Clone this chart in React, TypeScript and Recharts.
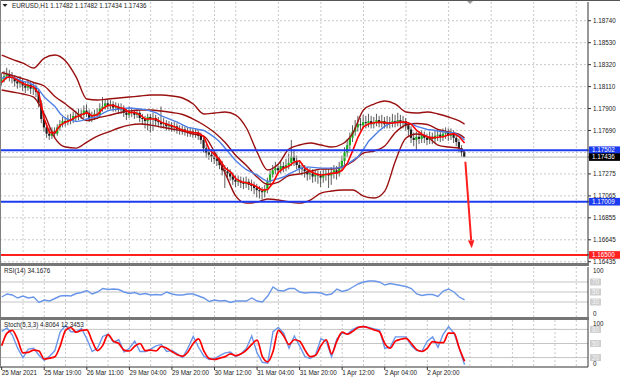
import React from "react";
import { ComposedChart, Bar, Line, XAxis, YAxis, CartesianGrid, ReferenceLine } from "recharts";

// EURUSD H1, 25 Mar - 2 Apr 2021. Candle and MA values are pips above 1.17000
const BASE = 1.17;

const opens = [
  116, 118, 121, 123, 120, 119, 116, 114, 116, 112,
  110, 113, 109, 110, 106, 95, 80, 72, 66, 64,
  68, 66, 72, 75, 78, 77, 80, 79, 83, 82,
  85, 84, 88, 86, 81, 83, 85, 84, 90, 92,
  95, 93, 94, 91, 92, 89, 90, 86, 84, 87,
  86, 84, 86, 81, 80, 78, 82, 80, 81, 78,
  77, 75, 76, 73, 74, 72, 73, 70, 69, 70,
  68, 67, 68, 66, 67, 64, 60, 52, 48, 46,
  44, 42, 40, 36, 31, 30, 28, 25, 22, 20,
  21, 19, 18, 20, 17, 16, 14, 12, 11, 10,
  13, 20, 27, 31, 33, 31, 35, 33, 36, 38,
  44, 40, 36, 33, 32, 30, 27, 28, 25, 27,
  26, 24, 27, 28, 26, 29, 31, 28, 34, 40,
  48, 55, 62, 68, 72, 75, 74, 77, 76, 78,
  75, 77, 79, 76, 78, 75, 77, 76, 78, 77,
  79, 76, 78, 74, 70, 62, 60, 63, 61, 64,
  62, 60, 63, 61, 64, 65, 63, 66, 67, 64,
  66, 62, 58, 52, 48.2,
];
const highs = [
  124, 126, 129, 127, 125, 122, 119, 121, 119, 116,
  118, 116, 115, 113, 109, 98, 84, 76, 71, 72,
  72, 75, 79, 82, 82, 84, 85, 87, 88, 90,
  89, 93, 94, 89, 87, 89, 90, 95, 101, 99,
  99, 98, 97, 96, 95, 95, 93, 90, 92, 91,
  89, 90, 89, 85, 83, 85, 85, 86, 84, 82,
  92, 81, 79, 78, 77, 77, 76, 74, 74, 73,
  72, 72, 71, 71, 70, 67, 63, 56, 52, 51,
  48, 47, 44, 40, 36, 34, 32, 29, 26, 26,
  25, 24, 25, 23, 22, 20, 18, 16, 15, 17,
  24, 31, 36, 39, 37, 40, 39, 42, 47, 60,
  51, 45, 40, 38, 36, 34, 33, 32, 31, 31,
  30, 32, 33, 32, 34, 36, 35, 39, 45, 53,
  61, 67, 74, 79, 83, 81, 84, 83, 85, 83,
  82, 85, 83, 84, 82, 83, 82, 85, 84, 86,
  84, 83, 81, 77, 73, 67, 68, 68, 69, 68,
  66, 68, 67, 69, 70, 69, 71, 72, 71, 71,
  69, 65, 61, 55, 48.2,
];
const lows = [
  112, 115, 118, 116, 114, 111, 109, 110, 107, 105,
  107, 104, 103, 101, 91, 76, 68, 62, 60, 61,
  62, 64, 69, 72, 73, 74, 75, 76, 78, 79,
  80, 81, 82, 77, 77, 79, 80, 81, 87, 89,
  89, 89, 87, 87, 85, 85, 82, 79, 81, 82,
  80, 81, 77, 75, 71, 69, 67, 69, 73, 72,
  71, 71, 69, 69, 68, 68, 66, 65, 65, 64,
  63, 63, 62, 62, 60, 56, 48, 43, 41, 39,
  37, 35, 32, 26, 14, 23, 21, 17, 15, 16,
  14, 13, 14, 12, 11, 8, 5, 4, 3, 5,
  9, 17, 24, 27, 27, 28, 29, 30, 32, 35,
  35, 32, 28, 26, 24, 21, 22, 19, 20, 18,
  15, 19, 21, 14, 17, 23, 22, 25, 30, 36,
  44, 51, 58, 64, 68, 69, 71, 71, 72, 71,
  71, 73, 72, 72, 71, 71, 71, 72, 72, 73,
  71, 71, 69, 64, 57, 54, 50, 56, 57, 57,
  55, 56, 56, 57, 59, 58, 59, 61, 59, 60,
  57, 54, 48, 44, 43.4,
];
const closes = [
  118, 121, 123, 120, 119, 116, 114, 116, 112, 110,
  113, 109, 110, 106, 95, 80, 72, 66, 64, 68,
  66, 72, 75, 78, 77, 80, 79, 83, 82, 85,
  84, 88, 86, 81, 83, 85, 84, 90, 92, 95,
  93, 94, 91, 92, 89, 90, 86, 84, 87, 86,
  84, 86, 81, 80, 78, 82, 80, 81, 78, 77,
  75, 76, 73, 74, 72, 73, 70, 69, 70, 68,
  67, 68, 66, 67, 64, 60, 52, 48, 46, 44,
  42, 40, 36, 31, 30, 28, 25, 22, 20, 21,
  19, 18, 20, 17, 16, 14, 12, 11, 10, 13,
  20, 27, 31, 33, 31, 35, 33, 36, 38, 44,
  40, 36, 33, 32, 30, 27, 28, 25, 27, 26,
  24, 27, 28, 26, 29, 31, 28, 34, 40, 48,
  55, 62, 68, 72, 75, 74, 77, 76, 78, 75,
  77, 79, 76, 78, 75, 77, 76, 78, 77, 79,
  76, 78, 74, 70, 62, 60, 63, 61, 64, 62,
  60, 63, 61, 64, 65, 63, 66, 67, 64, 66,
  62, 58, 52, 48.2, 43.6,
];

// indicator samples every 2 bars (bars 0, 2, ... 174)
const redMA = [
  115, 120, 120, 117, 114, 112, 110.6, 104, 80, 67,
  67, 74, 77, 79, 82, 84, 86, 83, 84, 90,
  93, 93, 91, 90, 86, 86.5, 84, 80, 80, 80,
  77, 75, 73.5, 71.5, 69.5, 68, 67, 66.6, 63, 51,
  46, 41, 33, 29.5, 23, 20, 19, 17.5, 15, 12,
  12.5, 19, 29, 33, 35, 39, 40, 33, 30, 27.5,
  26.5, 27, 28, 28.5, 31, 38, 50, 63, 72.5, 75.5,
  76.5, 77, 76.5, 76, 76.5, 77, 77, 75, 69, 65.5,
  63, 62, 62.5, 63, 65, 66, 63, 57,
];
const blueMA = [
  119, 120, 120, 118, 116, 115, 112.5, 108, 101, 96.5,
  92, 85, 80.5, 79, 77.5, 78.5, 80, 81.5, 82, 85.5,
  88, 89, 89.5, 90, 90.5, 90, 89.6, 89, 87.5, 86,
  83, 81, 79, 77, 74.5, 72, 71, 70, 69, 66,
  62.5, 58, 52, 46, 40, 35.5, 31.5, 29, 26.5, 23,
  20, 21.5, 23, 24.5, 27.5, 30, 32.5, 34, 34, 33.5,
  33, 33, 33, 33, 34, 37, 40.5, 44, 51, 59,
  64, 69, 73, 76, 77, 77, 76.5, 75.5, 73, 71.5,
  70, 69.5, 68.5, 67.8, 67.2, 67, 64, 60,
];
const rsi = [
  40, 46, 44, 38, 42, 38, 40, 29, 34, 32,
  37, 42, 43, 42, 47, 49, 53, 46, 50, 57,
  55, 56, 55, 50, 47, 49, 45, 47, 44, 45,
  44, 50, 46, 44, 44, 46, 46, 42, 38, 31,
  34, 32, 33, 29, 32, 32, 32, 38, 32, 30,
  42, 60, 53, 52, 57, 57, 50, 48, 49, 49,
  48, 44, 46, 56, 51, 54, 60, 66, 70, 72,
  72, 70, 64, 67, 65, 63, 61, 57, 46, 43,
  45, 45, 41, 52, 56, 50, 40, 34.2,
];
const stochMain = [
  76, 83, 68, 40, 20, 38, 40, 25, 14, 23,
  35, 75, 88, 75, 75, 82, 60, 33, 40, 65,
  70, 53, 58, 32, 40, 55, 33, 33, 38, 45,
  48, 33, 35, 28, 20, 40, 65, 42, 23, 16,
  18, 24, 30, 32, 22, 28, 40, 66, 30, 10,
  8, 75, 84, 72, 40, 66, 45, 22, 18, 26,
  60, 55, 22, 60, 72, 70, 80, 85, 86, 84,
  81, 79, 40, 42, 64, 64, 64, 45, 35, 34,
  55, 64, 42, 70, 86, 72, 40, 4.8,
];
const stochSignal = [
  45, 72, 78, 58, 30, 31, 36, 34, 17, 19,
  22, 45, 78, 84, 74, 78, 79, 55, 35, 46,
  69, 55, 50, 36, 34, 44, 50, 35, 36, 34,
  44, 40, 33, 26, 23, 32, 50, 60, 34, 18,
  16, 19, 22, 28, 24, 28, 36, 48, 57, 22,
  11, 33, 78, 66, 48, 58, 55, 36, 22, 25,
  45, 58, 28, 55, 74, 70, 76, 84, 86, 83,
  79, 75, 50, 40, 55, 59, 61, 50, 37, 33,
  40, 54, 52, 52, 72, 72, 40, 12.3,
];

// Bollinger bands, every 4 bars plus the last bar
const bbUpper = [
  141, 137, 133.5, 128.8, 138.3, 141.2, 135.5, 120.1, 99.1, 98.2,
  99.1, 100.1, 101, 102, 102.9, 102.9, 102, 100.1, 94.3, 84.8,
  85.7, 86.7, 83.8, 71.4, 48.4, 31.2, 36.9, 51.3, 55.1, 57,
  55.1, 53.2, 56.1, 66.6, 88.6, 94.3, 97.2, 94.3, 86.7, 85.7,
  86.7, 84.8, 81.9, 78.1, 75.2,
];
const bbMiddle = [
  124.5, 121.6, 118.7, 114.9, 111.6, 101.5, 94.4, 86.2, 78.6, 81,
  83.3, 85.8, 87.6, 88.6, 88.6, 87.6, 86.2, 84.3, 80, 74.3,
  67.1, 57.5, 45.1, 35.5, 24.5, 17.4, 19.7, 26, 27.4, 29.8,
  32.2, 32.2, 34.1, 39.4, 47.5, 49.4, 54.2, 67.1, 74.3, 75.7,
  74.8, 70, 67.6, 65.2, 61.8,
];
const bbLower = [
  107.7, 105.8, 103.9, 101, 84.8, 61.8, 53.2, 52.2, 58, 63.7,
  67.5, 71.4, 74.2, 75.2, 74.2, 72.3, 70.4, 68.5, 65.6, 63.7,
  48.4, 28.3, 6.3, -0.4, 0.6, 3.5, 2.5, 0.6, -0.4, 2.5,
  9.2, 11.1, 12.1, 12.1, 6.3, 4.4, 11.1, 39.8, 61.8, 65.6,
  62.8, 55.1, 53.2, 52.2, 48.4,
];

const priceTicks = [1.1874, 1.1853, 1.1832, 1.1811, 1.179, 1.1769, 1.17275, 1.17065, 1.16855, 1.16645, 1.16435];
const gridPrices = [1.1874, 1.1853, 1.1832, 1.1811, 1.179, 1.1769, 1.1748, 1.17275, 1.17065, 1.16855, 1.16645, 1.16435];
const boxPrices = [1.17502, 1.17436, 1.17009, 1.165];
const levelPrices = [1.17502, 1.17009, 1.165];
const bidPrice = 1.17436;
const arrowFrom = [174.3, 1.17391];
const arrowTo = [176.7, 1.16563];

const timeTicks = [0, 16, 32, 48, 64, 80, 96, 112, 128, 144, 160];
const timeLabels = [
  "25 Mar 2021", "25 Mar 19:00", "26 Mar 11:00", "29 Mar 04:00", "29 Mar 20:00", "30 Mar 12:00",
  "31 Mar 04:00", "31 Mar 20:00", "1 Apr 12:00", "2 Apr 04:00", "2 Apr 20:00",
];
const rsiTicks = [0, 30, 50, 70, 100];
const rsiLevels = [30, 50, 70];
const stochTicks = [0, 20, 50, 80, 100];
const stochLevels = [20, 50, 80];

const px = (p: number) => Number((BASE + p / 10000).toFixed(5));

const candles = closes.map((c, k) => ({
  i: k,
  o: px(opens[k]),
  h: px(highs[k]),
  l: px(lows[k]),
  c: px(c),
  range: [px(lows[k]), px(highs[k])],
}));
const maData = redMA.map((v, k) => ({ i: k * 2, red: px(v), blue: px(blueMA[k]) }));
const bandData = bbUpper.map((v, k) => ({
  i: Math.min(k * 4, 174),
  u: px(v),
  m: px(bbMiddle[k]),
  lo: px(bbLower[k]),
}));
const rsiData = rsi.map((v, k) => ({ i: k * 2, v }));
const stochData = stochMain.map((v, k) => ({ i: k * 2, main: v, signal: stochSignal[k] }));

const FONT = '"Liberation Sans", Arial, sans-serif';
const FS = 6.3;
const TEXT = "#222";
const X_DOMAIN: [number, number] = [-0.64, 220.4];
const GRID_X = Array.from({ length: 27 }, (_, k) => (k + 1) * 8);
const BAND = "#9a1010";
const BLUE_LVL = "#1c3cf0";
const RED_LVL = "#ff1f1f";
const BOX_FILL = [BLUE_LVL, "#000000", BLUE_LVL, RED_LVL];

function Candle(props: any) {
  const { x, y, width, height, payload } = props;
  if (!payload) return null;
  const top = Math.min(y, y + height);
  const bottom = Math.max(y, y + height);
  const span = payload.h - payload.l || 1e-9;
  const yOf = (v: number) => top + ((payload.h - v) / span) * (bottom - top);
  const cx = x + width / 2;
  const bTop = yOf(Math.max(payload.o, payload.c));
  const bBot = yOf(Math.min(payload.o, payload.c));
  const up = payload.c >= payload.o;
  return (
    <g>
      <line x1={cx} x2={cx} y1={top} y2={bottom} stroke="#333" strokeWidth={0.8} />
      <rect
        x={cx - 1.1}
        y={bTop}
        width={2.2}
        height={Math.max(bBot - bTop, 0.8)}
        fill={up ? "#19b019" : "#1e1e1e"}
      />
    </g>
  );
}

function PriceTick(props: any) {
  const { x, y, payload } = props;
  const v = payload.value;
  const label = v.toFixed(5);
  const b = boxPrices.indexOf(v);
  if (b >= 0) {
    return (
      <g>
        <rect x={x - 4} y={y - 3.8} width={31} height={7.6} fill={BOX_FILL[b]} />
        <text x={x - 1} y={y + 2.3} fill="#fff" fontSize={FS} fontFamily={FONT}>
          {label}
        </text>
      </g>
    );
  }
  return (
    <text x={x} y={y + 2.3} fill={TEXT} fontSize={FS} fontFamily={FONT}>
      {label}
    </text>
  );
}

function LevelTick(props: any) {
  const { x, y, payload } = props;
  const v = payload.value;
  if (v === 100) {
    return (
      <text x={x} y={y + 6} fill={TEXT} fontSize={FS} fontFamily={FONT}>
        100
      </text>
    );
  }
  if (v === 0) {
    return (
      <text x={x} y={y - 1.5} fill={TEXT} fontSize={FS} fontFamily={FONT}>
        0
      </text>
    );
  }
  return (
    <g>
      <rect x={x - 3} y={y - 3.5} width={11} height={7} fill="#cfcfcf" />
      <text x={x - 1} y={y + 2.2} fill="#f6f6f6" fontSize={FS} fontFamily={FONT}>
        {v}
      </text>
    </g>
  );
}

function TimeTick(props: any) {
  const { x, y, payload } = props;
  const k = timeTicks.indexOf(payload.value);
  return (
    <text x={x} y={y + 5.3} fill={TEXT} fontSize={FS} fontFamily={FONT}>
      {timeLabels[k]}
    </text>
  );
}

function Arrow(props: any) {
  const { x1, y1, x2, y2 } = props;
  const ang = Math.atan2(y2 - y1, x2 - x1);
  const len = 8;
  const half = 3.2;
  const bx = x2 - len * Math.cos(ang);
  const by = y2 - len * Math.sin(ang);
  const ox = -Math.sin(ang) * half;
  const oy = Math.cos(ang) * half;
  return (
    <g>
      <line x1={x1} y1={y1} x2={bx} y2={by} stroke={RED_LVL} strokeWidth={2} />
      <polygon points={`${x2},${y2} ${bx + ox},${by + oy} ${bx - ox},${by - oy}`} fill={RED_LVL} />
    </g>
  );
}

export default function App() {
  return (
    <div
      style={{
        position: "fixed",
        left: 0,
        top: 0,
        width: 620,
        height: 382,
        background: "#fff",
        overflow: "hidden",
        fontFamily: FONT,
      }}
    >
      {/* main price window */}
      <div style={{ position: "absolute", left: 0, top: 0 }}>
        <ComposedChart width={620} height={264} data={candles} margin={{ top: 2, right: 0, bottom: 1, left: 0 }}>
          <CartesianGrid stroke="#c9c9c9" strokeDasharray="2 2" verticalValues={GRID_X} horizontalValues={gridPrices} />
          <XAxis dataKey="i" type="number" domain={X_DOMAIN} allowDataOverflow hide />
          <YAxis
            orientation="right"
            width={32}
            domain={[1.16423, 1.18919]}
            allowDataOverflow
            ticks={[...priceTicks, ...boxPrices]}
            interval={0}
            tick={<PriceTick />}
            tickSize={3}
            tickMargin={2}
            tickLine={{ stroke: "#333" }}
            axisLine={{ stroke: "#333" }}
          />
          <ReferenceLine y={bidPrice} stroke="#b8b8b8" strokeWidth={1} />
          <Line data={bandData} dataKey="u" type="monotone" stroke={BAND} strokeWidth={1.4} dot={false} activeDot={false} isAnimationActive={false} />
          <Line data={bandData} dataKey="m" type="monotone" stroke={BAND} strokeWidth={1.4} dot={false} activeDot={false} isAnimationActive={false} />
          <Line data={bandData} dataKey="lo" type="monotone" stroke={BAND} strokeWidth={1.4} dot={false} activeDot={false} isAnimationActive={false} />
          <Bar dataKey="range" barSize={2} shape={<Candle />} isAnimationActive={false} />
          <Line data={maData} dataKey="blue" type="linear" stroke="#4d7fe6" strokeWidth={1.4} dot={false} activeDot={false} isAnimationActive={false} />
          <Line data={maData} dataKey="red" type="linear" stroke="#ff0000" strokeWidth={1.6} dot={false} activeDot={false} isAnimationActive={false} />
          <ReferenceLine y={levelPrices[0]} stroke={BLUE_LVL} strokeWidth={2} />
          <ReferenceLine y={levelPrices[1]} stroke={BLUE_LVL} strokeWidth={2} />
          <ReferenceLine y={levelPrices[2]} stroke={RED_LVL} strokeWidth={2} />
          <ReferenceLine
            segment={[
              { x: arrowFrom[0], y: arrowFrom[1] },
              { x: arrowTo[0], y: arrowTo[1] },
            ]}
            ifOverflow="visible"
            shape={(p: any) => <Arrow {...p} />}
          />
        </ComposedChart>
      </div>

      {/* RSI window */}
      <div style={{ position: "absolute", left: 0, top: 266 }}>
        <ComposedChart width={620} height={52} margin={{ top: 1, right: 0, bottom: 1, left: 0 }}>
          <CartesianGrid stroke="#c9c9c9" strokeDasharray="2 2" horizontal={false} verticalValues={GRID_X} />
          <XAxis dataKey="i" type="number" domain={X_DOMAIN} allowDataOverflow hide />
          <YAxis
            orientation="right"
            width={32}
            domain={[0, 100]}
            ticks={rsiTicks}
            interval={0}
            tick={<LevelTick />}
            tickSize={3}
            tickMargin={2}
            tickLine={false}
            axisLine={{ stroke: "#333" }}
          />
          {rsiLevels.map((v) => (
            <ReferenceLine key={v} y={v} stroke="#c4c4c4" strokeWidth={1} />
          ))}
          <Line data={rsiData} dataKey="v" type="linear" stroke="#6a96ea" strokeWidth={1.4} dot={false} activeDot={false} isAnimationActive={false} />
        </ComposedChart>
      </div>

      {/* Stochastic window with the time axis */}
      <div style={{ position: "absolute", left: 0, top: 320 }}>
        <ComposedChart width={620} height={62} margin={{ top: 0, right: 0, bottom: 0, left: 0 }}>
          <CartesianGrid stroke="#c9c9c9" strokeDasharray="2 2" horizontal={false} verticalValues={GRID_X} />
          <XAxis
            dataKey="i"
            type="number"
            domain={X_DOMAIN}
            allowDataOverflow
            ticks={timeTicks}
            interval={0}
            height={15}
            tick={<TimeTick />}
            tickSize={3}
            tickMargin={0}
            tickLine={{ stroke: "#333" }}
            axisLine={{ stroke: "#333" }}
          />
          <YAxis
            orientation="right"
            width={32}
            domain={[0, 100]}
            ticks={stochTicks}
            interval={0}
            tick={<LevelTick />}
            tickSize={3}
            tickMargin={2}
            tickLine={false}
            axisLine={{ stroke: "#333" }}
          />
          {stochLevels.map((v) => (
            <ReferenceLine key={v} y={v} stroke="#c4c4c4" strokeWidth={1} />
          ))}
          <Line data={stochData} dataKey="main" type="linear" stroke="#6a96ea" strokeWidth={1.4} dot={false} activeDot={false} isAnimationActive={false} />
          <Line data={stochData} dataKey="signal" type="monotone" stroke="#ff0000" strokeWidth={1.7} dot={false} activeDot={false} isAnimationActive={false} />
        </ComposedChart>
      </div>

      {/* window frame, separators and indicator captions */}
      <svg width={620} height={382} style={{ position: "absolute", left: 0, top: 0, pointerEvents: "none" }}>
        <rect x={0} y={0} width={620} height={1} fill="#555" />
        <rect x={0} y={0} width={1} height={368} fill="#808080" />
        <rect x={0} y={263} width={589} height={3} fill="#767676" />
        <rect x={0} y={317} width={589} height={3} fill="#767676" />
        <polygon points="2.5,4 7.5,4 5,7" fill="#222" />
        <polygon points="467,1 473,1 470,4" fill="#9a9a9a" />
        <text x={12} y={8} fontSize={FS} fontFamily={FONT} fill={TEXT}>
          EURUSD,H1 1.17482 1.17482 1.17434 1.17436
        </text>
        <text x={4} y={273.2} fontSize={FS} fontFamily={FONT} fill={TEXT}>
          RSI(14) 34.1676
        </text>
        <text x={4} y={327} fontSize={FS} fontFamily={FONT} fill={TEXT}>
          Stoch(5,3,3) 4.8064 12.3453
        </text>
      </svg>
    </div>
  );
}
